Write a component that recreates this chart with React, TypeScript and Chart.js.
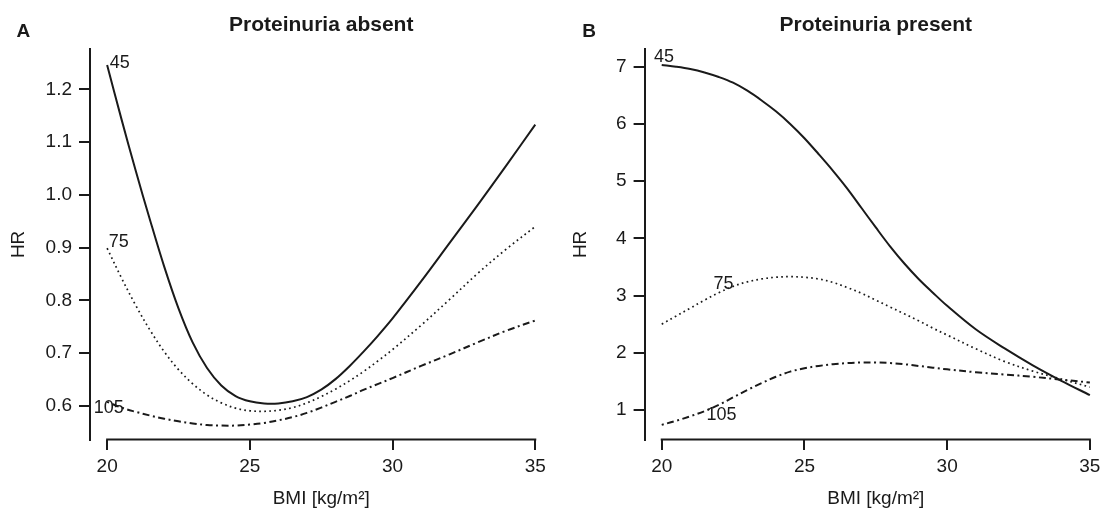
import React, { useEffect, useRef } from "react";
import { Chart, registerables } from "chart.js";

Chart.register(...registerables);

// ---------- data ----------
const BMI = [20, 20.5, 21, 21.5, 22, 22.5, 23, 23.5, 24, 24.5, 25, 25.5, 26, 26.5, 27, 27.5, 28, 28.5, 29, 29.5, 30, 31, 32, 33, 34, 35];

// Panel A: Proteinuria absent
const A_45 = [1.246, 1.144, 1.046, 0.953, 0.864, 0.785, 0.72, 0.672, 0.639, 0.619, 0.609, 0.605, 0.605, 0.609, 0.617, 0.631, 0.651, 0.676, 0.704, 0.734, 0.766, 0.836, 0.909, 0.982, 1.057, 1.133];
const A_75 = [0.899, 0.843, 0.791, 0.744, 0.703, 0.669, 0.642, 0.621, 0.606, 0.596, 0.591, 0.59, 0.592, 0.597, 0.606, 0.618, 0.632, 0.648, 0.666, 0.686, 0.707, 0.753, 0.802, 0.852, 0.898, 0.94];
const A_105 = [0.608, 0.597, 0.589, 0.582, 0.576, 0.571, 0.567, 0.564, 0.563, 0.563, 0.565, 0.568, 0.573, 0.579, 0.587, 0.597, 0.608, 0.619, 0.631, 0.642, 0.653, 0.676, 0.698, 0.721, 0.743, 0.762];

// Panel B: Proteinuria present
const B_45 = [7.03, 7.0, 6.96, 6.9, 6.82, 6.72, 6.58, 6.41, 6.22, 6.0, 5.75, 5.47, 5.18, 4.87, 4.53, 4.19, 3.86, 3.56, 3.29, 3.05, 2.82, 2.41, 2.08, 1.78, 1.51, 1.26];
const B_75 = [2.5, 2.64, 2.78, 2.92, 3.05, 3.16, 3.24, 3.29, 3.32, 3.33, 3.32, 3.29, 3.23, 3.14, 3.04, 2.92, 2.8, 2.68, 2.56, 2.43, 2.31, 2.07, 1.85, 1.68, 1.54, 1.4];
const B_105 = [0.74, 0.81, 0.89, 0.98, 1.09, 1.22, 1.35, 1.47, 1.58, 1.67, 1.73, 1.77, 1.8, 1.82, 1.83, 1.83, 1.82, 1.8, 1.77, 1.74, 1.71, 1.66, 1.62, 1.58, 1.53, 1.48];

const X_TICKS = [20, 25, 30, 35];
const A_Y_TICKS = [0.6, 0.7, 0.8, 0.9, 1.0, 1.1, 1.2];
const B_Y_TICKS = [1, 2, 3, 4, 5, 6, 7];

const SERIES_NAMES = ["45", "75", "105"];
// curve labels: [text, bmi, HR]
const A_LABELS: [string, number, number][] = [["45", 20.09, 1.241], ["75", 20.06, 0.901], ["105", 19.53, 0.586]];
const B_LABELS: [string, number, number][] = [["45", 19.73, 7.09], ["75", 21.81, 3.11], ["105", 21.57, 0.825]];

// ---------- styling ----------
const FAMILY = "'Liberation Sans', Arial, Helvetica, sans-serif";
const INK = "#1a1a1a";

type PanelSpec = {
  title: string;
  letter: string;
  letterX: number;
  series: number[][];
  labels: [string, number, number][];
  yTicks: number[];
  yMin: number;
  yMax: number;
  yFmt: (v: number) => string;
  yWidth: number;
  padRight: number;
  hrPad: number;
};

const panelPlugin = {
  id: "panelDecor",
  afterDatasetsDraw(chart: any, _args: any, opts: any) {
    const { ctx, chartArea, scales } = chart;
    const xs = scales.x;
    const ys = scales.y;
    ctx.save();
    // x axis line spanning first to last tick (R style)
    ctx.strokeStyle = INK;
    ctx.lineWidth = 2;
    ctx.lineCap = "butt";
    ctx.beginPath();
    ctx.moveTo(xs.getPixelForValue(X_TICKS[0]) - 1, chartArea.bottom);
    ctx.lineTo(xs.getPixelForValue(X_TICKS[X_TICKS.length - 1]) + 1, chartArea.bottom);
    ctx.stroke();
    // curve labels
    ctx.fillStyle = INK;
    ctx.font = `18px ${FAMILY}`;
    ctx.textAlign = "left";
    ctx.textBaseline = "alphabetic";
    for (const [t, bx, hy] of opts.labels as [string, number, number][]) {
      ctx.fillText(t, xs.getPixelForValue(bx), ys.getPixelForValue(hy));
    }
    // panel letter
    ctx.font = `bold 19px ${FAMILY}`;
    ctx.fillText(opts.letter, opts.letterX, 37);
    ctx.restore();
  },
};

function makeConfig(p: PanelSpec): any {
  const styles = [
    { borderWidth: 2, borderDash: [] as number[] },
    { borderWidth: 1.7, borderDash: [1.7, 3.3] },
    { borderWidth: 2, borderDash: [2, 3.5, 7, 3.5] },
  ];
  return {
    type: "line",
    data: {
      datasets: p.series.map((s, i) => ({
        label: SERIES_NAMES[i],
        data: BMI.map((x, j) => ({ x, y: s[j] })),
        borderColor: INK,
        borderWidth: styles[i].borderWidth,
        borderDash: styles[i].borderDash,
        pointRadius: 0,
        fill: false,
        tension: 0.35,
      })),
    },
    options: {
      animation: false,
      responsive: false,
      maintainAspectRatio: false,
      events: [],
      layout: { padding: { left: 0, right: p.padRight, top: 0, bottom: 0 } },
      plugins: {
        legend: { display: false },
        tooltip: { enabled: false },
        title: {
          display: true,
          fullSize: false,
          text: p.title,
          color: INK,
          font: { family: FAMILY, size: 21, weight: "bold" },
          padding: { top: 12.5, bottom: 11.6 },
        },
        panelDecor: { labels: p.labels, letter: p.letter, letterX: p.letterX },
      },
      scales: {
        x: {
          type: "linear",
          min: 19.4,
          max: 35.6,
          afterBuildTicks: (s: any) => {
            s.ticks = X_TICKS.map((v) => ({ value: v }));
          },
          afterFit: (s: any) => {
            s.height = 72.5;
          },
          border: { display: false },
          grid: { drawOnChartArea: false, drawTicks: true, tickLength: 10.5, lineWidth: 2, color: INK },
          ticks: {
            color: INK,
            font: { family: FAMILY, size: 19 },
            padding: 5.6,
            maxRotation: 0,
            autoSkip: false,
            callback: (v: any) => String(v),
          },
          title: {
            display: true,
            text: "BMI [kg/m²]",
            color: INK,
            font: { family: FAMILY, size: 19 },
            padding: { top: 0, bottom: 2 },
          },
        },
        y: {
          type: "linear",
          min: p.yMin,
          max: p.yMax,
          afterBuildTicks: (s: any) => {
            s.ticks = p.yTicks.map((v) => ({ value: v }));
          },
          afterFit: (s: any) => {
            s.width = p.yWidth;
          },
          border: { display: true, width: 2, color: INK },
          grid: { drawOnChartArea: false, drawTicks: true, tickLength: 11, lineWidth: 2, color: INK },
          ticks: {
            color: INK,
            font: { family: FAMILY, size: 19 },
            padding: 7,
            autoSkip: false,
            callback: (v: any) => p.yFmt(Number(v)),
          },
          title: {
            display: true,
            text: "HR",
            color: INK,
            font: { family: FAMILY, size: 19 },
            padding: { top: p.hrPad, bottom: 0 },
          },
        },
      },
    },
    plugins: [panelPlugin],
  };
}

const PANEL_A: PanelSpec = {
  title: "Proteinuria absent",
  letter: "A",
  letterX: 16.5,
  series: [A_45, A_75, A_105],
  labels: A_LABELS,
  yTicks: A_Y_TICKS,
  yMin: 0.5366,
  yMax: 1.2758,
  yFmt: (v) => v.toFixed(1),
  yWidth: 90,
  padRight: 12.6,
  hrPad: 7.6,
};

const PANEL_B: PanelSpec = {
  title: "Proteinuria present",
  letter: "B",
  letterX: 22.3,
  series: [B_45, B_75, B_105],
  labels: B_LABELS,
  yTicks: B_Y_TICKS,
  yMin: 0.484,
  yMax: 7.304,
  yFmt: (v) => String(v),
  yWidth: 84.6,
  padRight: 13,
  hrPad: 9.6,
};

function Panel({ spec, left, width }: { spec: PanelSpec; left: number; width: number }) {
  const ref = useRef<HTMLCanvasElement | null>(null);
  useEffect(() => {
    if (!ref.current) return;
    const chart = new Chart(ref.current, makeConfig(spec));
    return () => chart.destroy();
  }, [spec]);
  return (
    <canvas
      ref={ref}
      width={width}
      height={512}
      style={{ position: "absolute", left, top: 0, width, height: 512 }}
    />
  );
}

export default function App() {
  return (
    <div
      style={{
        position: "absolute",
        left: 0,
        top: 0,
        width: 1102,
        height: 512,
        overflow: "hidden",
        background: "#ffffff",
      }}
    >
      <Panel spec={PANEL_A} left={0} width={565} />
      <Panel spec={PANEL_B} left={560} width={560} />
    </div>
  );
}
